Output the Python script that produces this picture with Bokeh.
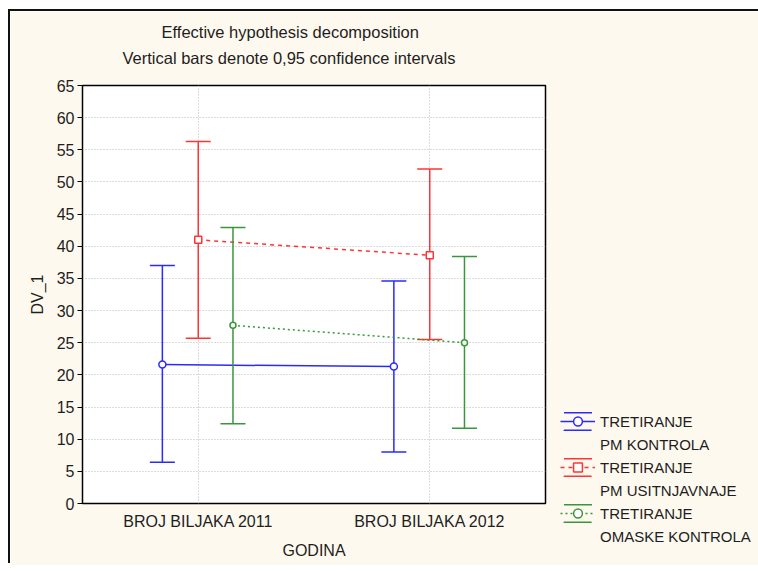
import math
from bokeh.plotting import figure
from bokeh.models import (ColumnDataSource, FixedTicker, Legend, LegendItem, Title,
                          LinearAxis)
from bokeh.embed import file_html
from bokeh.resources import INLINE

# ---- data ----
categories = ["BROJ BILJAKA 2011", "BROJ BILJAKA 2012"]
cat_pos = [1, 2]
legend_group = "TRETIRANJE"
series_names = ["PM KONTROLA", "PM USITNJAVNAJE", "OMASKE KONTROLA"]
kontrola_mean = [21.6, 21.3]
kontrola_low = [6.4, 8.0]
kontrola_high = [37.0, 34.6]
usitnj_mean = [41.0, 38.6]
usitnj_low = [25.7, 25.5]
usitnj_high = [56.3, 52.0]
omaske_mean = [27.7, 25.0]
omaske_low = [12.4, 11.7]
omaske_high = [42.9, 38.4]
y_ticks = list(range(0, 70, 5))
title_lines = ["Effective hypothesis decomposition", "Vertical bars denote 0,95 confidence intervals"]

FONT = "Liberation Sans"
TXT = "#1e1e1e"
BG = "#fef9ee"
FS = "16px"
NAN = float("nan")

p = figure(frame_width=463, frame_height=418, output_backend="svg", toolbar_location=None,
           x_range=(0.5, 2.5), y_range=(0, 65),
           min_border_left=72, min_border_right=208, min_border_top=74, min_border_bottom=62)
p.styles = {"margin-left": "10px", "margin-top": "11px", "vertical-align": "top",
            "box-shadow": "-2px -2px 0 0 #111"}
p.background_fill_color = "white"
p.border_fill_color = BG
p.outline_line_color = "black"
p.outline_line_width = 1.5

# axes
p.xaxis.ticker = FixedTicker(ticks=cat_pos)
p.xaxis.major_label_overrides = {1: categories[0], 2: categories[1]}
p.xaxis.axis_label = "GODINA"
p.yaxis.ticker = FixedTicker(ticks=y_ticks)
p.yaxis.axis_label = "DV_1"
for ax in (p.xaxis[0], p.yaxis[0]):
    ax.axis_line_color = None
    ax.major_label_text_font = FONT
    ax.major_label_text_font_size = FS
    ax.major_label_text_color = TXT
    ax.axis_label_text_font = FONT
    ax.axis_label_text_font_size = FS
    ax.axis_label_text_font_style = "normal"
    ax.axis_label_text_color = TXT
    ax.minor_tick_line_color = None
p.yaxis.major_tick_out = 5
p.yaxis.major_tick_in = 0
p.yaxis.major_label_standoff = 3
p.yaxis.axis_label_standoff = 8
p.xaxis.major_tick_out = 0
p.xaxis.major_tick_in = 0
p.xaxis.major_label_standoff = 9
p.xaxis.axis_label_standoff = 9

p.xgrid.ticker = FixedTicker(ticks=cat_pos)
p.ygrid.ticker = FixedTicker(ticks=y_ticks[1:-1])
for g in (p.xgrid[0], p.ygrid[0]):
    g.grid_line_color = "#b8b8b8"
    g.grid_line_dash = "1 2"
    g.grid_line_width = 1

series = [
    (kontrola_mean, kontrola_low, kontrola_high, -0.155, "#2a2aff", "solid", "circle", 7),
    (usitnj_mean, usitnj_low, usitnj_high, 0.0, "#ff3535", "4 4", "square", 7),
    (omaske_mean, omaske_low, omaske_high, 0.15, "#3a963a", "2 3", "circle", 6),
]
blank = p.line([NAN], [NAN], line_alpha=0)
items = []
for (mean, low, high, off, col, dash, marker, msize), name in zip(series, series_names):
    xs = [c + off for c in cat_pos]
    src = ColumnDataSource(dict(x=xs, mean=mean, low=low, high=high))
    ln = p.line("x", "mean", source=src, line_color=col, line_width=1.5, line_dash=dash)
    p.segment(x0="x", y0="low", x1="x", y1="high", source=src, line_color=col, line_width=1.5)
    p.scatter("x", "low", source=src, marker="dash", size=25, line_color=col, line_width=1.5)
    p.scatter("x", "high", source=src, marker="dash", size=25, line_color=col, line_width=1.5)
    mk = p.scatter("x", "mean", source=src, marker=marker, size=msize, line_color=col,
                   line_width=1.5, fill_color="white")
    # legend-only icon parts (not drawn in the plot): caps as a dashed box outline, and a stem
    caps = p.quad(left=[NAN], right=[NAN], top=[NAN], bottom=[NAN], fill_alpha=0,
                  line_color=col, line_width=1.5, line_dash="28 18")
    stem = p.scatter([NAN], [NAN], marker="dash", angle=math.pi / 2, line_color=col,
                     line_width=1.5)
    items.append(LegendItem(label=legend_group, renderers=[caps, ln, stem, mk]))
    items.append(LegendItem(label=name, renderers=[blank]))

legend = Legend(items=items, location=(15, -44), background_fill_alpha=0,
                border_line_color=None, label_text_font=FONT, label_text_font_size="15px",
                label_text_color=TXT, glyph_width=35, glyph_height=22, label_height=19,
                label_standoff=5, padding=0, spacing=1, margin=0)
p.add_layout(legend, "right")

# invisible spacer between the plot frame and the titles
spacer = LinearAxis(ticker=FixedTicker(ticks=[1.5]), major_tick_out=16, major_tick_in=0,
                    axis_line_color=None, major_tick_line_color=None,
                    major_label_overrides={1.5: ""}, major_label_standoff=0,
                    major_label_text_font_size="0px")
p.add_layout(spacer, "above")
p.add_layout(Title(text=title_lines[1], align="left", offset=40, text_font=FONT,
                   text_font_size="16.5px", text_font_style="normal", text_color=TXT,
                   standoff=6), "above")
p.add_layout(Title(text=title_lines[0], align="left", offset=79, text_font=FONT,
                   text_font_size="16.5px", text_font_style="normal", text_color=TXT,
                   standoff=6), "above")

open("out.html", "w").write(file_html(p, INLINE))
